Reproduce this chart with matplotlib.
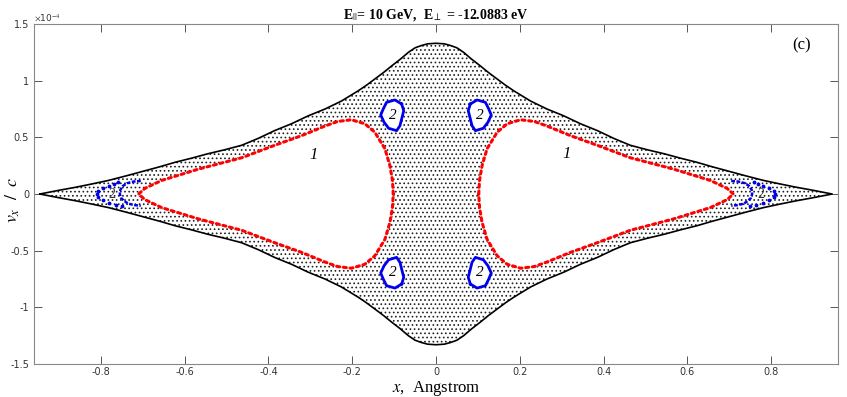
import matplotlib
matplotlib.use("Agg")
import numpy as np
import matplotlib.pyplot as plt
from matplotlib.patches import Polygon

# upper half of the energy envelope (right side), v_x/c in units of 1e-4
env_x = [0, 0.02, 0.035, 0.05, 0.066, 0.085, 0.106, 0.126, 0.146, 0.166, 0.186,
         0.206, 0.226, 0.265, 0.305, 0.345, 0.385, 0.425, 0.464, 0.505, 0.545,
         0.585, 0.623, 0.66, 0.70, 0.74, 0.782, 0.82, 0.86, 0.90, 0.946]
env_y = [1.33, 1.325, 1.31, 1.29, 1.25, 1.19, 1.13, 1.07, 1.015, 0.96, 0.91,
         0.865, 0.82, 0.75, 0.69, 0.62, 0.56, 0.49, 0.43, 0.39, 0.355,
         0.315, 0.28, 0.24, 0.20, 0.16, 0.12, 0.09, 0.06, 0.033, 0.0]

# upper half of the separatrix around region "1" (right side)
sep_x = [0.102, 0.104, 0.11, 0.122, 0.146, 0.17, 0.202, 0.235, 0.265, 0.321,
         0.385, 0.464, 0.567, 0.655, 0.695, 0.71]
sep_y = [0.0, 0.12, 0.25, 0.40, 0.545, 0.62, 0.655, 0.64, 0.60, 0.515,
         0.43, 0.32, 0.22, 0.12, 0.05, 0.0]

# island "2" (upper right one), others are mirrored
isl_x = [0.082, 0.098, 0.118, 0.126, 0.132, 0.124, 0.113, 0.094, 0.086, 0.081, 0.077, 0.082]
isl_y = [0.794, 0.830, 0.809, 0.750, 0.697, 0.633, 0.580, 0.559, 0.603, 0.677, 0.735, 0.794]

# small island near the tip (right side)
tip_arc_x = [0.705, 0.722, 0.738, 0.748, 0.754, 0.755, 0.752, 0.745, 0.735, 0.72, 0.705]
tip_arc_y = [0.115, 0.11, 0.095, 0.07, 0.035, 0.0, -0.035, -0.06, -0.085, -0.098, -0.103]
tip_dot_x = [0.76, 0.768, 0.78, 0.795, 0.806, 0.81, 0.806, 0.795, 0.78, 0.765, 0.75]
tip_dot_y = [0.11, 0.088, 0.075, 0.055, 0.03, 0.0, -0.03, -0.055, -0.08, -0.095, -0.108]

x_ticks = [-0.8, -0.6, -0.4, -0.2, 0, 0.2, 0.4, 0.6, 0.8]
y_ticks = [-1.5, -1, -0.5, 0, 0.5, 1, 1.5]

plt.rcParams['axes.unicode_minus'] = False
plt.rcParams['mathtext.fontset'] = 'stix'
plt.rcParams['hatch.linewidth'] = 0.7

ex = np.array(env_x)
ey = np.array(env_y)
sx = np.array(sep_x)
sy = np.array(sep_y)

fig = plt.figure(figsize=(8.47, 3.97), dpi=100)
ax = fig.add_axes([0.0401, 0.0831, 0.9493, 0.8564])

# envelope closed curve
up_x = np.concatenate([-ex[::-1], ex[1:]])
up_y = np.concatenate([ey[::-1], ey[1:]])
env_px = np.concatenate([up_x, up_x[::-1]])
env_py = np.concatenate([up_y, -up_y[::-1]])

# chaotic sea drawn as dot texture
sea = Polygon(np.column_stack([env_px, env_py]), closed=True, facecolor='none',
              edgecolor='#222222', linewidth=0, hatch='....', zorder=1)
ax.add_patch(sea)
ax.plot(env_px, env_py, color='black', lw=1.2, zorder=4)

# separatrix loops
for s in (1, -1):
    lx = s * np.concatenate([sx, sx[::-1]])
    ly = np.concatenate([sy, -sy[::-1]])
    ax.fill(lx, ly, color='white', zorder=2)
    ax.plot(lx, ly, color='red', lw=2.2, linestyle=(0, (1, 1.2)),
            dash_capstyle='round', zorder=5)

# islands
for sxn in (1, -1):
    for syn in (1, -1):
        ix = sxn * np.array(isl_x)
        iy = syn * np.array(isl_y)
        ax.fill(ix, iy, color='white', zorder=2)
        ax.plot(ix, iy, color='#0000ee', lw=2.0, zorder=5)
        ax.text(sxn * 0.104, syn * 0.69, '2', fontsize=11, style='italic',
                family='Liberation Serif', ha='center', va='center', zorder=6)
    ax.plot(sxn * np.array(tip_arc_x), tip_arc_y, color='#0000ee', lw=1.8,
            linestyle=(0, (1.5, 0.6)), zorder=5)
    ax.plot(sxn * np.array(tip_dot_x), tip_dot_y, '.', color='#0000ee', ms=3.5, zorder=5)
    ax.text(sxn * 0.775, 0, '2', fontsize=10, color='#333333',
            family='Liberation Serif', ha='center', va='center', zorder=6)

ax.text(-0.292, 0.344, '1', fontsize=12, style='italic', family='Liberation Serif',
        ha='center', va='center')
ax.text(0.311, 0.353, '1', fontsize=12, style='italic', family='Liberation Serif',
        ha='center', va='center')
ax.text(0.874, 1.31, '(c)', fontsize=12, family='Liberation Serif',
        ha='center', va='center')

ax.set_xlim(-0.96, 0.96)
ax.set_ylim(-1.5, 1.5)
ax.set_xticks(x_ticks)
ax.set_yticks(y_ticks)
ax.set_xticklabels(['%g' % t for t in x_ticks])
ax.set_yticklabels(['%g' % t for t in y_ticks])
ax.tick_params(direction='in', top=True, right=True, length=5.5, width=0.7,
               colors='#555555', labelsize=7, labelcolor='#333333')
ax.tick_params(axis='x', pad=2)
for sp in ax.spines.values():
    sp.set_color('#888888')
    sp.set_linewidth(0.8)

ax.text(0.0, 1.003, r'$\times$10$^{-4}$', transform=ax.transAxes, fontsize=6.5,
        color='#333333', ha='left', va='bottom')

ax.set_title(r'E$_{||}$= 10 GeV,  E$_{\perp}$ = -12.0883 eV', fontsize=10,
             fontweight='bold', family='Liberation Serif', pad=4)
fig.text(436 / 847, 1 - 388 / 397, r'$x$,  Angstrom', fontsize=12,
         family='Liberation Serif', ha='center', va='center')
fig.text(13 / 847, 1 - 200 / 397, r'$v_x\ \ /\ \ c$', fontsize=13,
         rotation=90, ha='center', va='center')

fig.savefig('out.png', dpi=100)
